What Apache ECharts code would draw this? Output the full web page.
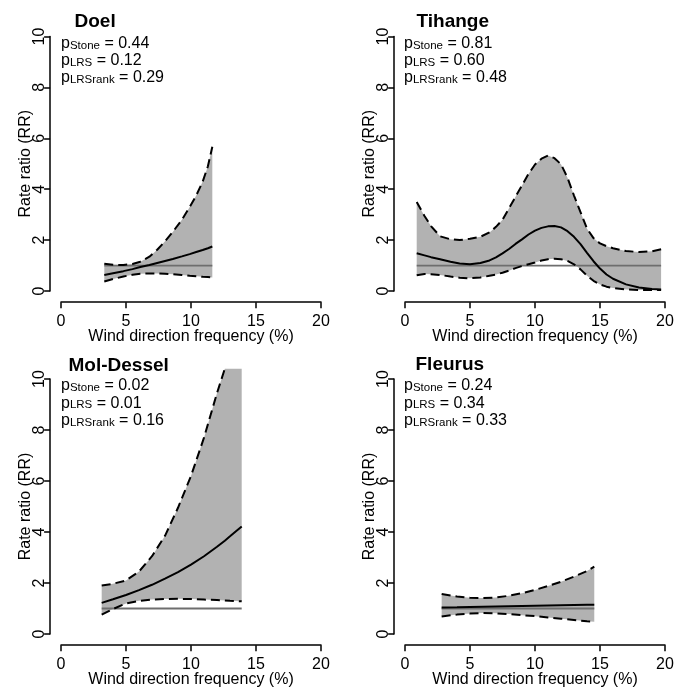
<!DOCTYPE html>
<html><head><meta charset="utf-8">
<script src="https://cdn.jsdelivr.net/npm/echarts@6/dist/echarts.min.js"></script>
<style>html,body{margin:0;padding:0;background:#fff}#c{width:675px;height:688px}</style>
</head><body><div id="c"></div>
<script>
// ---------- data ----------
const panelNames = ['Doel', 'Tihange', 'Mol-Dessel', 'Fleurus'];
const pLabels = ['Stone', 'LRS', 'LRSrank'];
const doelP = ['0.44', '0.12', '0.29'];
const tihangeP = ['0.81', '0.60', '0.48'];
const molP = ['0.02', '0.01', '0.16'];
const fleurusP = ['0.24', '0.34', '0.33'];
const refLevel = 1;

const doelX     = [3.33, 4, 4.8, 5.5, 6.1, 6.8, 7.4, 8, 8.6, 9.3, 9.9, 10.4, 10.9, 11.3, 11.64];
const doelUpper = [1.07, 1.03, 1.02, 1.06, 1.15, 1.35, 1.62, 1.95, 2.32, 2.8, 3.3, 3.75, 4.3, 4.9, 5.67];
const doelRR    = [0.63, 0.7, 0.78, 0.86, 0.94, 1.02, 1.1, 1.18, 1.26, 1.36, 1.45, 1.53, 1.61, 1.68, 1.75];
const doelLower = [0.37, 0.47, 0.57, 0.64, 0.68, 0.69, 0.69, 0.68, 0.66, 0.63, 0.6, 0.58, 0.56, 0.55, 0.53];

const tihX     = [0.9, 1.5, 2, 2.7, 3.5, 4.2, 5, 5.8, 6.5, 7, 7.5, 8, 8.5, 9, 9.5, 10, 10.5, 11, 11.5, 12, 12.5, 13, 13.5, 14, 14.5, 15, 15.5, 16, 17, 18, 19, 19.7];
const tihUpper = [3.5, 2.95, 2.55, 2.15, 2.03, 2.0, 2.05, 2.13, 2.3, 2.52, 2.8, 3.25, 3.7, 4.15, 4.6, 4.97, 5.2, 5.32, 5.22, 4.98, 4.45, 3.75, 3.1, 2.45, 2.08, 1.87, 1.76, 1.68, 1.57, 1.53, 1.56, 1.64];
const tihRR    = [1.48, 1.4, 1.33, 1.25, 1.15, 1.08, 1.05, 1.1, 1.2, 1.32, 1.48, 1.65, 1.85, 2.03, 2.22, 2.37, 2.48, 2.54, 2.55, 2.5, 2.35, 2.13, 1.84, 1.5, 1.17, 0.88, 0.65, 0.48, 0.26, 0.14, 0.08, 0.06];
const tihLower = [0.62, 0.67, 0.66, 0.63, 0.57, 0.52, 0.5, 0.53, 0.6, 0.65, 0.72, 0.8, 0.9, 0.98, 1.05, 1.12, 1.2, 1.25, 1.27, 1.25, 1.18, 1.05, 0.85, 0.6, 0.4, 0.26, 0.17, 0.12, 0.06, 0.04, 0.04, 0.04];

const molX     = [3.13, 4, 5, 6, 7, 8, 9, 10, 11, 12, 12.6, 13, 13.9];
const molUpper = [1.9, 1.97, 2.1, 2.45, 3.05, 3.85, 4.95, 6.2, 7.7, 9.45, 10.4, 11.2, 13.3];
const molRR    = [1.22, 1.36, 1.53, 1.72, 1.93, 2.17, 2.43, 2.72, 3.05, 3.42, 3.66, 3.83, 4.22];
const molLower = [0.76, 0.98, 1.2, 1.3, 1.35, 1.37, 1.38, 1.37, 1.35, 1.33, 1.31, 1.3, 1.28];

const fleX     = [2.82, 4, 5, 6, 7, 8, 9, 10, 11, 12, 13, 14, 14.56];
const fleUpper = [1.57, 1.47, 1.42, 1.41, 1.43, 1.5, 1.6, 1.73, 1.88, 2.05, 2.25, 2.47, 2.64];
const fleRR    = [1.04, 1.05, 1.06, 1.07, 1.08, 1.09, 1.1, 1.11, 1.12, 1.13, 1.14, 1.15, 1.15];
const fleLower = [0.69, 0.76, 0.8, 0.82, 0.81, 0.78, 0.74, 0.7, 0.65, 0.6, 0.55, 0.5, 0.48];

const xMin = 0, xMax = 20, xStep = 5;
const yMin = 0, yMax = 10, yStep = 2;
const xTitle = 'Wind direction frequency (%)';
const yTitle = 'Rate ratio (RR)';

// ---------- layout ----------
const layout = [
  {x0: 61,  x20: 321, y10: 36.5, y0: 291, nameLeft: 74.5,  nameTop: 11.9,  pLeft: 61,  pTop: 33.4},
  {x0: 405, x20: 665, y10: 36.5, y0: 291, nameLeft: 416.5, nameTop: 11.9,  pLeft: 404, pTop: 33.4},
  {x0: 61,  x20: 321, y10: 379,  y0: 634, nameLeft: 68.5,  nameTop: 356.5, pLeft: 61,  pTop: 376},
  {x0: 405, x20: 665, y10: 379,  y0: 634, nameLeft: 415.5, nameTop: 355.7, pLeft: 404, pTop: 376}
];
const panels = [
  {name: panelNames[0], x: doelX, up: doelUpper, rr: doelRR, lo: doelLower, p: doelP},
  {name: panelNames[1], x: tihX,  up: tihUpper,  rr: tihRR,  lo: tihLower,  p: tihangeP},
  {name: panelNames[2], x: molX,  up: molUpper,  rr: molRR,  lo: molLower,  p: molP},
  {name: panelNames[3], x: fleX,  up: fleUpper,  rr: fleRR,  lo: fleLower,  p: fleurusP}
];

const FONT = '"Liberation Sans", Arial, Helvetica, sans-serif';
const PADX = 0.04 * (xMax - xMin), PADY = 0.04 * (yMax - yMin);

const grids = [], xAxes = [], yAxes = [], series = [], titles = [];
const pair = (xs, ys) => xs.map((v, i) => [v, ys[i]]);

panels.forEach((pn, i) => {
  const L = layout[i];
  const sx = (L.x20 - L.x0) / (xMax - xMin);
  const sy = (L.y0 - L.y10) / (yMax - yMin);
  grids.push({left: L.x0 - PADX * sx, top: L.y10 - PADY * sy,
              width: (xMax - xMin + 2 * PADX) * sx, height: (yMax - yMin + 2 * PADY) * sy,
              outerBoundsMode: 'none', containLabel: false});
  grids.push({left: L.x0, top: L.y10, width: L.x20 - L.x0, height: L.y0 - L.y10,
              outerBoundsMode: 'none', containLabel: false});
  const gd = 2 * i, ga = 2 * i + 1;
  xAxes.push({gridIndex: gd, type: 'value', min: xMin - PADX, max: xMax + PADX, show: false});
  yAxes.push({gridIndex: gd, type: 'value', min: yMin - PADY, max: yMax + PADY, show: false});
  const axLine = {show: true, onZero: false, lineStyle: {color: '#000', width: 1.5}};
  const axTick = {show: true, length: 6, lineStyle: {color: '#000', width: 1.5}};
  xAxes.push({gridIndex: ga, type: 'value', min: xMin, max: xMax, interval: xStep,
    offset: PADY * sy + 1, axisLine: axLine, axisTick: axTick, splitLine: {show: false},
    axisLabel: {fontSize: 16, color: '#000', fontFamily: FONT, margin: 11, showMinLabel: true, showMaxLabel: true},
    name: xTitle, nameLocation: 'middle', nameGap: 26, nameMoveOverlap: false,
    nameTextStyle: {fontSize: 16, color: '#000', fontFamily: FONT}});
  yAxes.push({gridIndex: ga, type: 'value', min: yMin, max: yMax, interval: yStep,
    offset: PADX * sx + 0.5, axisLine: axLine, axisTick: axTick, splitLine: {show: false},
    axisLabel: {fontSize: 16, color: '#000', fontFamily: FONT, margin: 3, rotate: 90, showMinLabel: true, showMaxLabel: true},
    name: yTitle, nameLocation: 'middle', nameGap: 17, nameMoveOverlap: false,
    nameTextStyle: {fontSize: 16, color: '#000', fontFamily: FONT}});

  const xs = pn.x, lo = pn.lo, up = pn.up;
  series.push({type: 'custom', xAxisIndex: gd, yAxisIndex: gd, clip: true, silent: true, z: 1,
    data: [[xs[0], lo[0]]],
    renderItem: function (params, api) {
      const pts = [];
      for (let k = 0; k < xs.length; k++) pts.push(api.coord([xs[k], up[k]]));
      for (let k = xs.length - 1; k >= 0; k--) pts.push(api.coord([xs[k], lo[k]]));
      return {type: 'polygon', shape: {points: pts}, style: {fill: '#b2b2b2', stroke: null}};
    }});
  series.push({type: 'line', xAxisIndex: gd, yAxisIndex: gd, z: 2, symbol: 'none', silent: true,
    data: [[xs[0], refLevel], [xs[xs.length - 1], refLevel]],
    lineStyle: {color: '#6e6e6e', width: 1.8}});
  series.push({type: 'line', xAxisIndex: gd, yAxisIndex: gd, z: 3, symbol: 'none', silent: true,
    data: pair(xs, pn.rr), lineStyle: {color: '#000', width: 2}});
  [up, lo].forEach(arr => series.push({type: 'line', xAxisIndex: gd, yAxisIndex: gd, z: 4,
    symbol: 'none', silent: true, clip: true,
    data: pair(xs, arr), lineStyle: {color: '#000', width: 2, type: [9, 5]}}));

  titles.push({text: pn.name, left: L.nameLeft, top: L.nameTop, padding: 0,
    textStyle: {fontSize: 19, fontWeight: 'bold', color: '#000', fontFamily: FONT, lineHeight: 19}});
  pLabels.forEach((lab, k) => {
    titles.push({text: '{m|p}{s|' + lab + '}{m| = ' + pn.p[k] + '}', left: L.pLeft,
      top: L.pTop + k * 17.3, padding: 0,
      textStyle: {fontWeight: 'normal', fontSize: 16, fontFamily: FONT, color: '#000', rich: {
        m: {fontSize: 16, fontWeight: 'normal', lineHeight: 18, verticalAlign: 'bottom', color: '#000', fontFamily: FONT},
        s: {fontSize: 11.5, fontWeight: 'normal', lineHeight: 10, verticalAlign: 'bottom', color: '#000', fontFamily: FONT}
      }}});
  });
});

const chart = echarts.init(document.getElementById('c'), null, {renderer: 'canvas'});
chart.setOption({
  animation: false,
  backgroundColor: '#fff',
  title: titles,
  grid: grids,
  xAxis: xAxes,
  yAxis: yAxes,
  series: series
});
</script></body></html>
